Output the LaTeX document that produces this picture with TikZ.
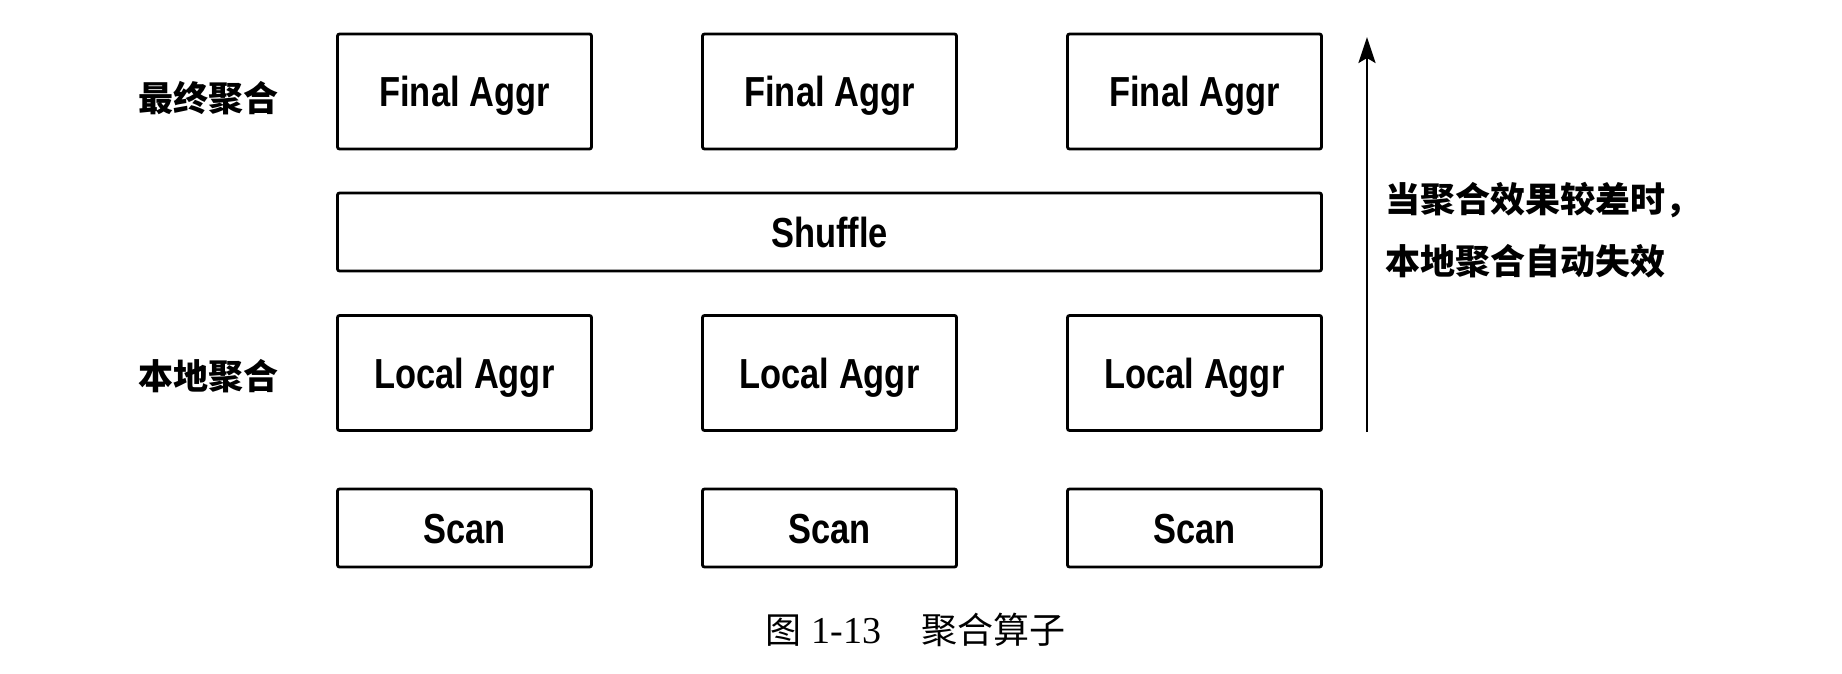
\documentclass[tikz,border=0pt]{standalone}
\usepackage{fontspec}
\setsansfont[FakeStretch=0.82]{Liberation Sans}
\newfontfamily\cjk{Noto Sans CJK SC}
\newfontfamily\capserif{Liberation Serif}
\usetikzlibrary{arrows.meta,positioning}

\tikzset{
  opbox/.style={draw, line width=2.8pt, rounded corners=2pt, minimum width=254pt, minimum height=115pt, inner sep=0pt, text height=30pt, text depth=0pt, font=\sffamily\bfseries\fontsize{42}{48}\selectfont},
  thinbox/.style={opbox, minimum height=78pt},
  lvl/.style={font=\cjk\bfseries\fontsize{35}{62}\selectfont, inner sep=0pt}
}

\begin{document}
\begin{tikzpicture}[x=1pt,y=-1pt]
\useasboundingbox (0,0) rectangle (1842,674);

% operators, one column per node
\foreach \i/\x in {1/464.5,2/829.5,3/1194.5} {
\node[opbox] (final\i) at (\x,91.5) {Final Aggr};
\node[opbox] (local\i) at (\x,373) {Local Aggr};
\node[thinbox] (scan\i) at (\x,528) {Scan};
}
% shuffle across all columns
\node[thinbox, minimum width=984pt] (shuffle) at (829.5,232) {Shuffle};

% stage labels
\node[lvl, left=57pt of final1, yshift=-7pt] (lblfinal) {最终聚合};
\node[lvl, left=57pt of local1, yshift=-3pt] (lbllocal) {本地聚合};

% fallback arrow
\coordinate (arrbot) at (1367,432);
\coordinate (arrtop) at (1367,37);
\draw[line width=2.6pt, -{Stealth[length=26pt,width=17pt,inset=5pt]}] (arrbot) -- (arrtop);
\node[lvl, anchor=west, align=left] (note) at (1385,230) {当聚合效果较差时，\\本地聚合自动失效};

% caption
\node[inner sep=0pt, font=\cjk\fontsize{36}{40}\selectfont] (caption) at (915.5,630) {图\hspace{10pt}{\capserif\fontsize{38}{40}\selectfont 1-13}\hspace{40pt}聚合算子};

\end{tikzpicture}
\end{document}
